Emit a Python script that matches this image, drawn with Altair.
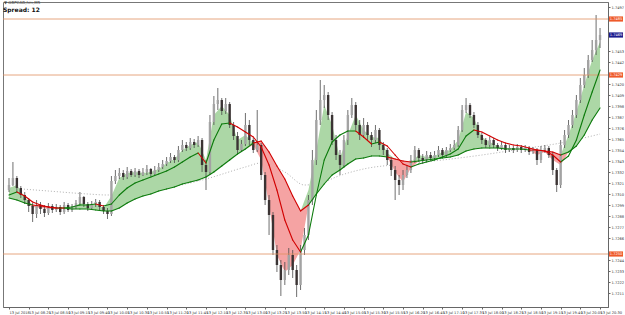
import altair as alt
import pandas as pd

# ---------------- data ----------------
symbol_text = "\u25bc GBPCAD,hm,M5"
spread_text = "Spread: 12"
first_date_label = "13 Jul 2018"
start_time = "2018-07-13 08:00"
bar_minutes = 5
label_every_bars = 5

open_first = 1.7314
closes = [
    1.7319, 1.7326, 1.7316, 1.7309, 1.7304, 1.7298, 1.7290, 1.7299, 1.7295, 1.7291,
    1.7298, 1.7294, 1.7297, 1.7292, 1.7299, 1.7294, 1.7297, 1.7301, 1.7307, 1.7300,
    1.7296, 1.7300, 1.7302, 1.7297, 1.7293, 1.7290, 1.7323, 1.7328, 1.7331, 1.7327,
    1.7333, 1.7329, 1.7333, 1.7329, 1.7332, 1.7335, 1.7330, 1.7334, 1.7337, 1.7340,
    1.7343, 1.7347, 1.7344, 1.7354, 1.7359, 1.7356, 1.7362, 1.7359, 1.7364, 1.7339,
    1.7332, 1.7382, 1.7400, 1.7404, 1.7393, 1.7400, 1.7379, 1.7368, 1.7354, 1.7360,
    1.7379, 1.7364, 1.7354, 1.7359, 1.7329, 1.7304, 1.7289, 1.7254, 1.7239, 1.7224,
    1.7234, 1.7249, 1.7234, 1.7219, 1.7254, 1.7269, 1.7304, 1.7344, 1.7384, 1.7404,
    1.7409, 1.7389, 1.7364, 1.7349, 1.7339, 1.7364, 1.7389, 1.7399, 1.7379, 1.7369,
    1.7379, 1.7369, 1.7364, 1.7374, 1.7359, 1.7354, 1.7344, 1.7334, 1.7324, 1.7319,
    1.7329, 1.7334, 1.7344, 1.7354, 1.7346, 1.7344, 1.7349, 1.7346, 1.7349, 1.7354,
    1.7349, 1.7354, 1.7356, 1.7359, 1.7374, 1.7394, 1.7399, 1.7389, 1.7379, 1.7369,
    1.7364, 1.7359, 1.7364, 1.7359, 1.7356, 1.7359, 1.7354, 1.7356, 1.7354, 1.7357,
    1.7354, 1.7356, 1.7352, 1.7354, 1.7344, 1.7354, 1.7356, 1.7349, 1.7334, 1.7319,
    1.7359, 1.7369, 1.7379, 1.7389, 1.7404, 1.7419, 1.7429, 1.7444, 1.7454, 1.7464,
    1.7469,
]
highs = [
    1.7326, 1.7342, 1.7328, 1.7318, 1.7312, 1.7306, 1.7301, 1.7304, 1.7302, 1.7299,
    1.7301, 1.7300, 1.7300, 1.7299, 1.7302, 1.7301, 1.7300, 1.7304, 1.7312, 1.7308,
    1.7302, 1.7303, 1.7305, 1.7304, 1.7299, 1.7296, 1.7328, 1.7334, 1.7336, 1.7334,
    1.7337, 1.7335, 1.7336, 1.7335, 1.7336, 1.7339, 1.7336, 1.7338, 1.7341, 1.7344,
    1.7347, 1.7351, 1.7349, 1.7358, 1.7364, 1.7362, 1.7366, 1.7365, 1.7368, 1.7366,
    1.7344, 1.7389, 1.7408, 1.7416, 1.7406, 1.7406, 1.7402, 1.7382, 1.7372, 1.7364,
    1.7391, 1.7384, 1.7366, 1.7394, 1.7361, 1.7332, 1.7309, 1.7292, 1.7259, 1.7244,
    1.7242, 1.7256, 1.7254, 1.7239, 1.7259, 1.7276, 1.7309, 1.7354, 1.7394, 1.7424,
    1.7419, 1.7412, 1.7392, 1.7369, 1.7354, 1.7369, 1.7394, 1.7406, 1.7402, 1.7384,
    1.7386, 1.7382, 1.7372, 1.7379, 1.7376, 1.7362, 1.7356, 1.7347, 1.7338, 1.7329,
    1.7334, 1.7339, 1.7349, 1.7358, 1.7356, 1.7350, 1.7353, 1.7352, 1.7353, 1.7358,
    1.7356, 1.7357, 1.7360, 1.7364, 1.7378, 1.7399, 1.7406, 1.7401, 1.7392, 1.7382,
    1.7371, 1.7366, 1.7367, 1.7366, 1.7361, 1.7362, 1.7361, 1.7359, 1.7358, 1.7360,
    1.7359, 1.7359, 1.7358, 1.7357, 1.7356, 1.7358, 1.7359, 1.7358, 1.7352, 1.7336,
    1.7364, 1.7374, 1.7384, 1.7394, 1.7409, 1.7426, 1.7436, 1.7449, 1.7464, 1.7489,
    1.7476,
]
lows = [
    1.7312, 1.7318, 1.7312, 1.7306, 1.7300, 1.7292, 1.7282, 1.7286, 1.7290, 1.7287,
    1.7289, 1.7291, 1.7292, 1.7289, 1.7290, 1.7292, 1.7292, 1.7295, 1.7299, 1.7297,
    1.7293, 1.7294, 1.7297, 1.7294, 1.7290, 1.7285, 1.7288, 1.7320, 1.7325, 1.7324,
    1.7325, 1.7327, 1.7327, 1.7326, 1.7328, 1.7329, 1.7328, 1.7329, 1.7332, 1.7335,
    1.7338, 1.7341, 1.7341, 1.7342, 1.7352, 1.7353, 1.7354, 1.7356, 1.7357, 1.7332,
    1.7314, 1.7329, 1.7379, 1.7394, 1.7389, 1.7390, 1.7376, 1.7364, 1.7350, 1.7352,
    1.7358, 1.7359, 1.7351, 1.7352, 1.7324, 1.7299, 1.7269, 1.7249, 1.7232, 1.7208,
    1.7219, 1.7229, 1.7226, 1.7207, 1.7214, 1.7249, 1.7264, 1.7299, 1.7339, 1.7379,
    1.7396, 1.7384, 1.7359, 1.7344, 1.7329, 1.7336, 1.7359, 1.7386, 1.7374, 1.7364,
    1.7366, 1.7364, 1.7357, 1.7361, 1.7354, 1.7349, 1.7339, 1.7328, 1.7304, 1.7309,
    1.7314, 1.7326, 1.7331, 1.7341, 1.7342, 1.7340, 1.7342, 1.7343, 1.7344, 1.7347,
    1.7346, 1.7347, 1.7352, 1.7354, 1.7357, 1.7372, 1.7391, 1.7386, 1.7376, 1.7366,
    1.7360, 1.7356, 1.7357, 1.7356, 1.7353, 1.7354, 1.7351, 1.7352, 1.7351, 1.7352,
    1.7351, 1.7352, 1.7349, 1.7350, 1.7339, 1.7341, 1.7351, 1.7346, 1.7329, 1.7312,
    1.7316, 1.7356, 1.7366, 1.7376, 1.7386, 1.7401, 1.7416, 1.7426, 1.7442, 1.7449,
    1.7456,
]

# moving averages, read every 2nd bar
ma_step = 2
fast_ma = [
    1.7316, 1.7319, 1.7307, 1.7297, 1.7296, 1.7295, 1.7295, 1.7296, 1.7296, 1.7301,
    1.7299, 1.7300, 1.7296, 1.7308, 1.7326, 1.7331, 1.7332, 1.7331, 1.7332, 1.7335,
    1.7341, 1.7345, 1.7354, 1.7359, 1.7362, 1.7344, 1.7389, 1.7398, 1.7389, 1.7364,
    1.7369, 1.7359, 1.7344, 1.7299, 1.7249, 1.7232, 1.7239, 1.7254, 1.7314, 1.7354,
    1.7399, 1.7379, 1.7346, 1.7369, 1.7389, 1.7374, 1.7367, 1.7366, 1.7351, 1.7332,
    1.7322, 1.7336, 1.7349, 1.7347, 1.7348, 1.7352, 1.7354, 1.7364, 1.7392, 1.7386,
    1.7367, 1.7362, 1.7358, 1.7356, 1.7355, 1.7355, 1.7354, 1.7349, 1.7352, 1.7344,
    1.7339, 1.7369, 1.7392, 1.7419, 1.7444, 1.7462,
]
mid_ma = [
    1.7309, 1.7312, 1.7308, 1.7302, 1.7299, 1.7297, 1.7296, 1.7296, 1.7297, 1.7299,
    1.7299, 1.7300, 1.7298, 1.7300, 1.7309, 1.7316, 1.7321, 1.7324, 1.7327, 1.7330,
    1.7333, 1.7337, 1.7342, 1.7347, 1.7351, 1.7341, 1.7364, 1.7380, 1.7381, 1.7377,
    1.7372, 1.7367, 1.7357, 1.7339, 1.7314, 1.7284, 1.7264, 1.7252, 1.7269, 1.7309,
    1.7344, 1.7362, 1.7369, 1.7373, 1.7373, 1.7367, 1.7360, 1.7362, 1.7358, 1.7349,
    1.7340, 1.7337, 1.7340, 1.7342, 1.7344, 1.7347, 1.7350, 1.7355, 1.7368, 1.7374,
    1.7372, 1.7368, 1.7364, 1.7361, 1.7359, 1.7358, 1.7356, 1.7354, 1.7353, 1.7349,
    1.7342, 1.7348, 1.7364, 1.7389, 1.7412, 1.7434,
]
slow_ma = [
    1.7306, 1.7304, 1.7301, 1.7299, 1.7298, 1.7297, 1.7296, 1.7296, 1.7295, 1.7295,
    1.7295, 1.7294, 1.7293, 1.7293, 1.7296, 1.7301, 1.7305, 1.7308, 1.7310, 1.7313,
    1.7315, 1.7317, 1.7320, 1.7322, 1.7324, 1.7327, 1.7332, 1.7338, 1.7344, 1.7350,
    1.7355, 1.7361, 1.7363, 1.7352, 1.7338, 1.7325, 1.7308, 1.7293, 1.7299, 1.7310,
    1.7320, 1.7329, 1.7334, 1.7340, 1.7345, 1.7346, 1.7348, 1.7348, 1.7347, 1.7345,
    1.7343, 1.7342, 1.7343, 1.7344, 1.7345, 1.7346, 1.7347, 1.7349, 1.7353, 1.7355,
    1.7356, 1.7356, 1.7356, 1.7355, 1.7355, 1.7355, 1.7354, 1.7354, 1.7353, 1.7352,
    1.7349, 1.7352, 1.7358, 1.7369, 1.7384, 1.7396,
]
long_ma_bars = [0, 10, 20, 25, 30, 40, 50, 60, 64, 70, 75, 80, 83, 90, 100, 110, 120, 130, 140, 150]
long_ma = [1.7316, 1.7313, 1.7310, 1.7309, 1.7310, 1.7316, 1.7325, 1.7337, 1.7341, 1.7332,
           1.7319, 1.7322, 1.7327, 1.7335, 1.7340, 1.7344, 1.7349, 1.7355, 1.7361, 1.7370]

level_lines = [1.7485, 1.7429, 1.7250]
current_price = 1.7469
price_ticks = [1.7211, 1.7222, 1.7233, 1.7244, 1.7266, 1.7277, 1.7288, 1.7299,
               1.7310, 1.7321, 1.7332, 1.7343, 1.7354, 1.7365, 1.7376, 1.7387, 1.7398,
               1.7409, 1.7420, 1.7442, 1.7453, 1.7497]
price_domain = [1.7197, 1.7502]

# ---------------- tables ----------------
t0 = pd.Timestamp(start_time)


def ts_at(minutes):
    return t0 + pd.Timedelta(minutes=minutes)


def iso(i):
    return ts_at(bar_minutes * i).strftime("%Y-%m-%dT%H:%M:%S")


def dt(ts):
    return alt.DateTime(year=ts.year, month=ts.month, date=ts.day,
                        hours=ts.hour, minutes=ts.minute, seconds=ts.second)


n = len(closes)
opens = [open_first] + closes[:-1]
candles = pd.DataFrame({
    "t": [iso(i) for i in range(n)],
    "open": opens,
    "close": closes,
    "high": [max(h, o, c) for h, o, c in zip(highs, opens, closes)],
    "low": [min(l, o, c) for l, o, c in zip(lows, opens, closes)],
})
up = candles[candles["close"] >= candles["open"]]
down = candles[candles["close"] < candles["open"]]

ma_t = [iso(i) for i in range(0, n, ma_step)]
fills = pd.DataFrame({
    "t": ma_t,
    "s": slow_ma,
    "top": [max(f, s) for f, s in zip(fast_ma, slow_ma)],
    "bot": [min(f, s) for f, s in zip(fast_ma, slow_ma)],
})

segs = []
for k in range(len(ma_t) - 1):
    segs.append({"t": ma_t[k], "t2": ma_t[k + 1], "v": mid_ma[k], "v2": mid_ma[k + 1],
                 "up": mid_ma[k + 1] >= mid_ma[k]})
    segs.append({"t": ma_t[k], "t2": ma_t[k + 1], "v": slow_ma[k], "v2": slow_ma[k + 1],
                 "up": (fast_ma[k] + fast_ma[k + 1]) >= (slow_ma[k] + slow_ma[k + 1])})
segs = pd.DataFrame(segs)
seg_up = segs[segs["up"]]
seg_down = segs[~segs["up"]]

long_df = pd.DataFrame({"t": [iso(i) for i in long_ma_bars], "v": long_ma})

levels = pd.DataFrame({"p": level_lines})
boxes = pd.DataFrame({"p": level_lines + [current_price],
                      "kind": ["level"] * len(level_lines) + ["current"]})
boxes["lo"] = boxes["p"] - 0.00026
boxes["hi"] = boxes["p"] + 0.00026
level_boxes = boxes[boxes["kind"] == "level"]
cur_box = boxes[boxes["kind"] == "current"]

# ---------------- scales / axes ----------------
dom_lo = ts_at(-bar_minutes * 0.25)
dom_hi = ts_at(bar_minutes * (n - 1 + 0.75))
x_scale = alt.Scale(domain=[dt(dom_lo), dt(dom_hi)])
x_ticks = [dt(ts_at(bar_minutes * label_every_bars * k))
           for k in range((n - 1) // label_every_bars + 1)]
label_expr = ("timeFormat(datum.value, '%H:%M') == '" + t0.strftime("%H:%M") + "' ? '"
              + first_date_label + "' : timeFormat(datum.value, '%d %b %H:%M')")
x_axis = alt.Axis(values=x_ticks, labelExpr=label_expr, title=None, grid=False,
                  labelFontSize=3.6, labelColor="#333333", labelFont="DejaVu Sans",
                  labelAlign="left", labelPadding=1, labelOverlap=False, labelFlush=False,
                  tickSize=2, tickColor="#666666", domainColor="#666666")
y_scale = alt.Scale(domain=price_domain, nice=False, zero=False)
y_axis = alt.Axis(orient="right", values=price_ticks, format=".4f", title=None, grid=False,
                  labelFontSize=3.6, labelColor="#333333", labelFont="DejaVu Sans",
                  labelPadding=1, labelOverlap=False, labelFlush=False,
                  tickSize=2, tickColor="#666666", domainColor="#666666")


def X(f):
    return alt.X(f, type="temporal", scale=x_scale, axis=x_axis)


def Y(f):
    return alt.Y(f, type="quantitative", scale=y_scale, axis=y_axis)


GREEN_FILL = "#acd7a6"
RED_FILL = "#f5a3a3"
GREEN_LINE = "#0b7a0b"
RED_LINE = "#d10000"

dotted = alt.Chart(long_df).mark_line(color="#9a9a9a", strokeWidth=0.8, strokeDash=[1, 2],
                                      interpolate="monotone").encode(x=X("t"), y=Y("v"))
green_area = alt.Chart(fills).mark_area(color=GREEN_FILL, opacity=1).encode(
    x=X("t"), y=Y("s"), y2=alt.Y2("top"))
red_area = alt.Chart(fills).mark_area(color=RED_FILL, opacity=1).encode(
    x=X("t"), y=Y("s"), y2=alt.Y2("bot"))
wicks = alt.Chart(candles).mark_rule(color="#4a4a4a", strokeWidth=0.8).encode(
    x=X("t"), y=Y("low"), y2=alt.Y2("high"))
bodies_up = alt.Chart(up).mark_bar(size=2.4, color="#a3a3a3").encode(
    x=X("t"), y=Y("open"), y2=alt.Y2("close"))
bodies_down = alt.Chart(down).mark_bar(size=2.4, color="#3a3333").encode(
    x=X("t"), y=Y("open"), y2=alt.Y2("close"))
level_rules = alt.Chart(levels).mark_rule(color="#e0915f", strokeWidth=0.8).encode(y=Y("p"))
lines_up = alt.Chart(seg_up).mark_rule(color=GREEN_LINE, strokeWidth=1.1, strokeCap="round").encode(
    x=X("t"), x2=alt.X2("t2"), y=Y("v"), y2=alt.Y2("v2"))
lines_down = alt.Chart(seg_down).mark_rule(color=RED_LINE, strokeWidth=1.1, strokeCap="round").encode(
    x=X("t"), x2=alt.X2("t2"), y=Y("v"), y2=alt.Y2("v2"))
lvl_box = alt.Chart(level_boxes).mark_rect(color="#ee5a2a").encode(
    x=alt.value(606), x2=alt.value(620), y=Y("lo"), y2=alt.Y2("hi"))
cur_rect = alt.Chart(cur_box).mark_rect(color="#1c1c8e").encode(
    x=alt.value(606), x2=alt.value(620), y=Y("lo"), y2=alt.Y2("hi"))
box_text = alt.Chart(boxes).mark_text(color="white", fontSize=3.6, font="DejaVu Sans",
                                      align="center", baseline="middle").encode(
    x=alt.value(613), y=Y("p"), text=alt.Text("p:Q", format=".4f"))
head = pd.DataFrame({"txt": [symbol_text, spread_text], "row": [0, 1]})
title1 = alt.Chart(head[head["row"] == 0]).mark_text(
    align="left", baseline="middle", fontSize=4, color="#444444", font="DejaVu Sans").encode(
    x=alt.value(1), y=alt.value(1), text="txt:N")
title2 = alt.Chart(head[head["row"] == 1]).mark_text(
    align="left", baseline="middle", fontSize=6, fontWeight="bold", color="#111111",
    font="DejaVu Sans").encode(x=alt.value(0), y=alt.value(8), text="txt:N")

chart = alt.layer(
    dotted, green_area, red_area, wicks, bodies_up, bodies_down, level_rules,
    lines_up, lines_down, lvl_box, cur_rect, box_text, title1, title2,
).properties(
    width=605, height=305,
    autosize=alt.AutoSizeParams(type="none"),
    padding={"left": 3, "top": 2, "right": 17, "bottom": 8},
    background="white",
).configure_view(stroke="#777777", strokeWidth=1)

chart.save("out.html", embed_options={"renderer": "svg", "actions": False})
